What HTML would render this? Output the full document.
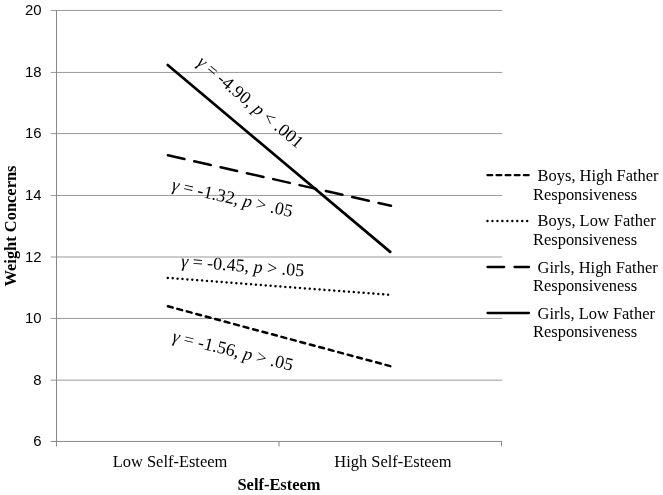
<!DOCTYPE html>
<html><head><meta charset="utf-8"><title>Chart</title>
<style>
html,body{margin:0;padding:0;background:#fff;}
svg{display:block;}
.ax{font-family:"Liberation Sans",sans-serif;font-size:14.5px;fill:#000;}
.se{font-family:"Liberation Serif",serif;font-size:16.45px;fill:#000;}
.an{font-size:18px;}
.b{font-weight:bold;}
.it{font-style:italic;}
</style></head><body>
<svg width="663" height="495" viewBox="0 0 663 495">
<rect width="663" height="495" fill="#fff"/>
<g stroke="#999" stroke-width="1" fill="none">
<line x1="50.7" y1="10.45" x2="502.2" y2="10.45"/>
<line x1="50.7" y1="72.45" x2="502.2" y2="72.45"/>
<line x1="50.7" y1="133.6" x2="502.2" y2="133.6"/>
<line x1="50.7" y1="195.45" x2="502.2" y2="195.45"/>
<line x1="50.7" y1="257.0" x2="502.2" y2="257.0"/>
<line x1="50.7" y1="318.45" x2="502.2" y2="318.45"/>
<line x1="50.7" y1="380.15" x2="502.2" y2="380.15"/>
</g>
<g stroke="#888" stroke-width="1" fill="none">
<line x1="50.7" y1="441.45" x2="502" y2="441.45"/>
<line x1="56.5" y1="10" x2="56.5" y2="446.5"/>
<line x1="279" y1="441.5" x2="279" y2="446.5"/>
<line x1="501.5" y1="441.5" x2="501.5" y2="446.3"/>
</g>
<g class="ax" text-anchor="end" transform="translate(41.5,0) scale(1.03,1)">
<text x="0" y="15.1">20</text>
<text x="0" y="77.1">18</text>
<text x="0" y="138.1">16</text>
<text x="0" y="200.1">14</text>
<text x="0" y="262.1">12</text>
<text x="0" y="323.1">10</text>
<text x="0" y="385.1">8</text>
<text x="0" y="446.1">6</text>
</g>
<g stroke="#000" stroke-width="2.7" fill="none" stroke-linecap="round">
<line x1="167.7" y1="65" x2="390.2" y2="251.9"/>
<line x1="167.9" y1="155.3" x2="391" y2="205.8" stroke-dasharray="17 10" stroke-width="2.5"/>
<line x1="167.8" y1="277.9" x2="391.5" y2="295" stroke-dasharray="0.01 4.9" stroke-width="2.5"/>
<line x1="167.9" y1="306.3" x2="390.6" y2="366.2" stroke-dasharray="4.9 4.9" stroke-width="2.5"/>
</g>
<g class="se">
<text x="170" y="466.7" text-anchor="middle">Low Self-Esteem</text>
<text x="393" y="466.5" text-anchor="middle">High Self-Esteem</text>
<text x="279" y="489.6" text-anchor="middle" class="b">Self-Esteem</text>
<text transform="translate(16,226) rotate(-90)" text-anchor="middle" class="b">Weight Concerns</text>
<text class="an" transform="translate(196,64) rotate(40)"><tspan class="it">γ</tspan> = -4.90, <tspan class="it">p</tspan> &lt; .001</text>
<text class="an" transform="translate(171,190) rotate(12.8)"><tspan class="it">γ</tspan> = -1.32, <tspan class="it">p</tspan> &gt; .05</text>
<text class="an" transform="translate(180.7,266.7) rotate(4.5)"><tspan class="it">γ</tspan> = -0.45, <tspan class="it">p</tspan> &gt; .05</text>
<text class="an" transform="translate(171.6,341.4) rotate(13.8)"><tspan class="it">γ</tspan> = -1.56, <tspan class="it">p</tspan> &gt; .05</text>
<text x="537.6" y="181">Boys, High Father</text>
<text x="533" y="199.8">Responsiveness</text>
<text x="537.6" y="226.4">Boys, Low Father</text>
<text x="533" y="245">Responsiveness</text>
<text x="537.6" y="273">Girls, High Father</text>
<text x="533" y="291.3">Responsiveness</text>
<text x="537.6" y="318.5">Girls, Low Father</text>
<text x="533" y="337">Responsiveness</text>
</g>
<g stroke="#000" stroke-width="2.3" fill="none" stroke-linecap="round">
<line x1="487.5" y1="175.2" x2="529" y2="175.2" stroke-dasharray="4.7 4.4"/>
<line x1="487.5" y1="221" x2="530" y2="221" stroke-dasharray="0.01 4.95" stroke-width="2.4"/>
<line x1="487.5" y1="267" x2="529" y2="267" stroke-dasharray="16.7 10.3"/>
<line x1="487.5" y1="313" x2="529" y2="313"/>
</g>
</svg>
</body></html>
